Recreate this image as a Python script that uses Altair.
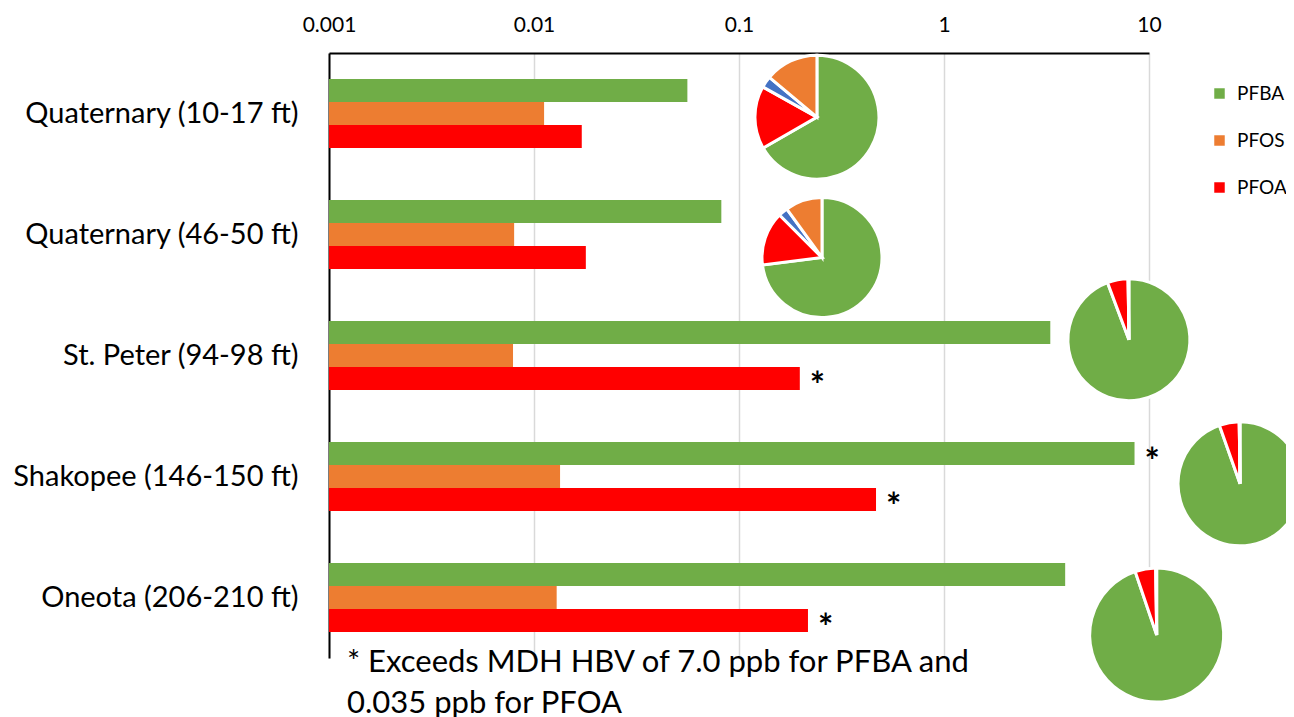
import math
import altair as alt
import pandas as pd

# ---------------- data ----------------
categories = [
    "Quaternary (10-17 ft)",
    "Quaternary (46-50 ft)",
    "St. Peter (94-98 ft)",
    "Shakopee (146-150 ft)",
    "Oneota (206-210 ft)",
]
series_names = ["PFBA", "PFOS", "PFOA"]
pfba = [0.056, 0.082, 3.3, 8.5, 3.9]
pfos = [0.0112, 0.0080, 0.0079, 0.0134, 0.0129]
pfoa = [0.0171, 0.0179, 0.198, 0.466, 0.217]
hbv = {"PFBA": 7.0, "PFOA": 0.035}
axis_ticks = [0.001, 0.01, 0.1, 1, 10]

# pie composition (percent of total), clockwise from 12 o'clock
pie_series = ["PFBA", "PFOA", "Other PFAS", "PFOS"]
pie_pfba = [66.7, 73.0, 94.3, 94.6, 94.8]
pie_pfoa = [16.4, 14.5, 5.5, 5.2, 5.0]
pie_other = [3.0, 2.5, 0.0, 0.0, 0.0]
pie_pfos = [13.9, 10.0, 0.2, 0.2, 0.2]

footnote = "* Exceeds MDH HBV of 7.0 ppb for PFBA and\n0.035 ppb for PFOA"

# ---------------- layout (pie anchors, not data) ----------------
pie_anchor_x = [0.24, 0.254, 7.98, 27.8, 10.9]   # in axis units
pie_anchor_y = [0.03, 1.19, 1.87, 3.06, 4.31]    # in category index units
pie_radius = [62, 60, 61, 62, 67]

FONT = "Lato"
colors = ["#70AD47", "#ED7D31", "#FF0000", "#4472C4"]

# ---------------- tables ----------------
rows = []
for i, c in enumerate(categories):
    for s, vals in zip(series_names, [pfba, pfos, pfoa]):
        v = vals[i]
        rows.append({"cat": c, "series": s, "value": v,
                     "star": bool(s in hbv and v > hbv[s])})
bar_df = pd.DataFrame(rows)

prow = []
for i in range(len(categories)):
    for k, (s, vals) in enumerate(zip(pie_series, [pie_pfba, pie_pfoa, pie_other, pie_pfos])):
        prow.append({"pie": i, "series": s, "pct": vals[i], "order": k,
                     "value": pie_anchor_x[i], "py": pie_anchor_y[i], "r": pie_radius[i]})
pie_df = pd.DataFrame(prow)

# ---------------- scales & axes ----------------
x_scale = alt.Scale(type="log", domain=[0.001, 10], nice=False)
y_scale = alt.Scale(domain=categories, paddingInner=0.43, paddingOuter=0.215)
yoff_scale = alt.Scale(domain=series_names, paddingInner=0, paddingOuter=0)
color_scale = alt.Scale(domain=["PFBA", "PFOS", "PFOA", "Other PFAS"], range=colors)

x_axis = alt.Axis(orient="top", values=axis_ticks, format="~g", title=None,
                  grid=True, gridColor="#d9d9d9", gridWidth=1.5, ticks=False,
                  domainColor="black", domainWidth=2, labelFontSize=21,
                  labelPadding=18, labelColor="black", labelFlush=False,
                  labelFont=FONT)
y_axis = alt.Axis(title=None, ticks=False, domainColor="black", domainWidth=2,
                  labelFontSize=29, labelPadding=31, labelColor="black",
                  labelLimit=400, labelFont=FONT, grid=False)

bars = alt.Chart(bar_df).mark_bar().encode(
    x=alt.X("value:Q", scale=x_scale, axis=x_axis, stack=None),
    y=alt.Y("cat:N", scale=y_scale, sort=categories, axis=y_axis),
    yOffset=alt.YOffset("series:N", scale=yoff_scale, sort=series_names),
    color=alt.Color("series:N", scale=color_scale,
                    legend=alt.Legend(title=None, values=series_names, orient="none",
                                      legendX=881, legendY=31, symbolType="square",
                                      symbolSize=110, symbolStrokeWidth=0,
                                      labelFontSize=19, labelFont=FONT, labelColor="black",
                                      rowPadding=27, labelOffset=8)),
)

stars = alt.Chart(bar_df).transform_filter("datum.star").mark_text(
    text="*", align="left", baseline="middle", dx=10, dy=9, fontSize=36,
    font=FONT, color="black", fontWeight="bold"
).encode(
    x=alt.X("value:Q", scale=x_scale, axis=x_axis),
    y=alt.Y("cat:N", scale=y_scale, sort=categories, axis=y_axis),
    yOffset=alt.YOffset("series:N", scale=yoff_scale, sort=series_names),
)

pies = alt.Chart(pie_df).transform_window(
    cum="sum(pct)", groupby=["pie"], sort=[alt.SortField("order")]
).transform_calculate(start="datum.cum - datum.pct").mark_arc(
    stroke="white", strokeWidth=3
).encode(
    x=alt.X("value:Q", scale=x_scale, axis=x_axis),
    y=alt.Y("py:Q", scale=alt.Scale(domain=[-0.5, 4.5], reverse=True, nice=False, zero=False), axis=None),
    theta=alt.Theta("start:Q", scale=alt.Scale(domain=[0, 100], range=[0, 2 * math.pi])),
    theta2=alt.Theta2("cum:Q"),
    radius=alt.Radius("r:Q", scale=None),
    color=alt.Color("series:N", scale=color_scale, legend=None),
)

note = alt.Chart(pd.DataFrame({"note": [footnote]})).mark_text(
    align="left", baseline="alphabetic", fontSize=31, font=FONT, color="black",
    lineBreak="\n", lineHeight=41
).encode(text="note:N", x=alt.value(18), y=alt.value(619))

chart = alt.layer(alt.layer(bars, stars), pies, note).resolve_scale(
    y="independent"
).properties(
    width=820, height=605,
    padding={"left": 321, "top": 45, "right": 137, "bottom": 59},
    autosize=alt.AutoSizeParams(type="none"),
).configure(font=FONT).configure_view(stroke=None)

chart.save("out.html", embed_options={"renderer": "svg", "actions": False})
